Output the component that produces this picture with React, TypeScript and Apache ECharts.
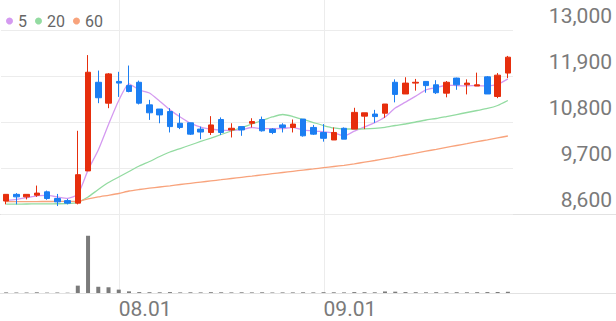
import React, { useEffect, useRef } from 'react';
import * as echarts from 'echarts';

const dates = [
  '07.17', '07.18', '07.19', '07.20', '07.21', '07.24', '07.25', '07.26', '07.27', '07.28', '07.31',
  '08.01', '08.02', '08.03', '08.04', '08.07', '08.08', '08.09', '08.10', '08.11', '08.14',
  '08.16', '08.17', '08.18', '08.21', '08.22', '08.23', '08.24', '08.25', '08.28', '08.29',
  '09.01', '09.04', '09.05', '09.06', '09.07', '09.08', '09.11', '09.12', '09.13', '09.14',
  '09.15', '09.18', '09.19', '09.20', '09.21', '09.22', '09.25', '09.26', '09.27',
];

const opens = [
  8910, 9070, 9010, 9050, 9130, 8970, 8920, 8860, 9630, 11750,
  11250, 11770, 11670, 11750, 11210, 11110, 11050, 10770, 10780, 10630,
  10550, 10860, 10610, 10690, 10770, 10860, 10630, 10730, 10670, 10870,
  10670, 10550, 10370, 10650, 10630, 10940, 10990, 11010, 11750, 11470,
  11730, 11770, 11690, 11490, 11850, 11690, 11660, 11880, 11410, 11970,
];
const closes = [
  9070, 9010, 9070, 9100, 8970, 8890, 8860, 9540, 11990, 11380,
  11950, 11730, 11530, 11250, 11020, 10970, 10690, 10670, 10510, 10560,
  10730, 10550, 10650, 10610, 10810, 10590, 10550, 10670, 10750, 10470,
  10510, 10410, 10550, 10390, 11030, 11020, 10930, 11230, 11460, 11730,
  11750, 11670, 11500, 11750, 11690, 11730, 11690, 11470, 11920, 12350,
];
const lows = [
  8830, 8830, 8950, 9010, 8940, 8790, 8830, 8830, 9630, 11250,
  11130, 11400, 11510, 11220, 10850, 10770, 10550, 10630, 10490, 10390,
  10490, 10490, 10430, 10470, 10670, 10570, 10510, 10550, 10550, 10450,
  10490, 10330, 10370, 10390, 10630, 10630, 10780, 10900, 11270, 11470,
  11550, 11500, 11470, 11390, 11570, 11460, 11660, 11470, 11370, 11850,
];
const highs = [
  9070, 9100, 9070, 9280, 9160, 9080, 8960, 10590, 12400, 12030,
  11970, 12000, 12150, 11790, 11330, 11110, 11130, 11010, 10780, 10690,
  10940, 10910, 10770, 10690, 10890, 10930, 10650, 10770, 10860, 10870,
  10730, 10750, 10670, 10670, 11140, 11020, 11090, 11230, 11820, 11870,
  11830, 11770, 11800, 11780, 11860, 11820, 11980, 11900, 11970, 12380,
];
const volumes = [
  60000, 40000, 50000, 70000, 40000, 50000, 30000, 720000, 5600000, 610000,
  560000, 330000, 160000, 90000, 80000, 70000, 90000, 60000, 70000, 60000,
  80000, 70000, 60000, 70000, 60000, 70000, 50000, 60000, 60000, 70000,
  60000, 80000, 70000, 60000, 90000, 80000, 70000, 150000, 130000, 90000,
  80000, 70000, 80000, 70000, 80000, 70000, 80000, 90000, 100000, 120000,
];

const ma5 = [
  8920, 8950, 8990, 9035, 9043, 9008, 8976, 9070, 9649, 10132,
  10743, 11316, 11713, 11565, 11494, 11297, 11090, 10920, 10773, 10680,
  10633, 10604, 10599, 10618, 10668, 10641, 10641, 10644, 10673, 10606,
  10590, 10563, 10540, 10468, 10580, 10682, 10786, 10921, 11135, 11274,
  11419, 11567, 11621, 11679, 11671, 11666, 11669, 11663, 11698, 11830,
];
const ma20 = [
  8835, 8837, 8839, 8841, 8843, 8845, 8848, 8880, 9006, 9186,
  9353, 9485, 9616, 9748, 9855, 9975, 10083, 10166, 10250, 10334,
  10417, 10501, 10585, 10668, 10752, 10836, 10920, 10979, 10931, 10860,
  10788, 10716, 10657, 10633, 10633, 10637, 10649, 10673, 10716, 10752,
  10800, 10848, 10884, 10931, 10979, 11027, 11075, 11123, 11195, 11314,
];
const ma60 = [
  8895, 8896, 8897, 8898, 8899, 8900, 8901, 8904, 8959, 9007,
  9047, 9090, 9150, 9186, 9217, 9246, 9274, 9305, 9334, 9363,
  9392, 9420, 9449, 9478, 9506, 9535, 9564, 9592, 9621, 9650,
  9678, 9707, 9736, 9765, 9800, 9839, 9879, 9922, 9965, 10011,
  10056, 10102, 10147, 10193, 10238, 10283, 10329, 10374, 10420, 10465,
];

const maNames = ['5', '20', '60'];
const maColors = ['#d49af0', '#93dba1', '#f8a37c'];
const priceTicks = [8600, 9700, 10800, 11900, 13000];

const UP = '#e62e0d';
const DOWN = '#1b7ef2';
const GRID_LINE = '#ececec';
const FONT = 'Roboto, "Noto Sans", sans-serif';

export default function App() {
  const ref = useRef<HTMLDivElement>(null);

  useEffect(() => {
    if (!ref.current) return;
    const chart = echarts.init(ref.current, null, { renderer: 'svg' });
    const base = priceTicks[0];
    const step = priceTicks[1] - priceTicks[0];
    const top = priceTicks[priceTicks.length - 1];
    const sh = (v: number) => v - base;
    const maxVol = Math.max(...volumes);

    const maSeries = [ma5, ma20, ma60].map((arr, k) => ({
      name: maNames[k],
      type: 'line',
      xAxisIndex: 0,
      yAxisIndex: 0,
      data: arr.map(sh),
      symbol: 'none',
      smooth: 0.2,
      itemStyle: { color: maColors[k] },
      lineStyle: { color: maColors[k], width: 1.3 },
      z: 2,
    }));

    chart.setOption({
      animation: false,
      legend: {
        data: maNames,
        left: 1,
        top: 8,
        icon: 'circle',
        itemWidth: 7,
        itemHeight: 7,
        itemGap: 8,
        selectedMode: false,
        textStyle: { fontFamily: FONT, fontSize: 16, color: '#666' },
      },
      grid: [
        { left: 1, right: 103, top: 30, height: 184 },
        { left: 1, right: 103, top: 214, height: 79 },
      ],
      xAxis: [
        {
          type: 'category',
          gridIndex: 0,
          data: dates,
          boundaryGap: true,
          axisLine: { show: false },
          axisTick: { show: false },
          axisLabel: { show: false },
          splitLine: { show: false },
        },
        {
          type: 'category',
          gridIndex: 1,
          data: dates,
          boundaryGap: true,
          axisLine: { show: false },
          axisTick: { show: false },
          splitLine: { show: false },
          axisLabel: {
            interval: (_i: number, v: string) => v.endsWith('.01'),
            align: 'left',
            verticalAlign: 'top',
            margin: 5,
            fontFamily: FONT,
            fontSize: 21,
            lineHeight: 21,
            color: '#7a7a7a',
          },
        },
      ],
      yAxis: [
        {
          type: 'value',
          gridIndex: 0,
          position: 'right',
          min: 0,
          max: top - base,
          interval: step,
          axisLine: { show: false },
          axisTick: { show: false },
          splitLine: { show: true, lineStyle: { color: GRID_LINE, width: 1 } },
          axisLabel: {
            formatter: (v: number) => (v + base).toLocaleString('en-US'),
            align: 'right',
            verticalAlign: 'bottom',
            margin: 99,
            padding: [0, 0, 4, 0],
            fontFamily: FONT,
            fontSize: 21,
            lineHeight: 21,
            color: '#7a7a7a',
          },
        },
        {
          type: 'value',
          gridIndex: 1,
          min: 0,
          max: maxVol * 1.38,
          show: false,
          splitLine: { show: false },
        },
      ],
      series: [
        ...maSeries,
        {
          name: 'price',
          type: 'candlestick',
          xAxisIndex: 0,
          yAxisIndex: 0,
          barWidth: 6,
          data: dates.map((_, i) => [sh(opens[i]), sh(closes[i]), sh(lows[i]), sh(highs[i])]),
          itemStyle: {
            color: UP,
            color0: DOWN,
            borderColor: UP,
            borderColor0: DOWN,
            borderWidth: 1,
          },
          z: 3,
        },
        {
          name: 'volume',
          type: 'bar',
          xAxisIndex: 1,
          yAxisIndex: 1,
          barWidth: 4,
          data: volumes,
          itemStyle: { color: '#7b7b7b' },
        },
      ],
    });

    const W = 616;
    const yPriceBottom = chart.convertToPixel({ yAxisIndex: 0 }, 0) as number;
    const yVolBottom = chart.convertToPixel({ yAxisIndex: 1 }, 0) as number;
    const vLines = dates
      .filter((d) => d.endsWith('.01'))
      .map((d) => {
        const x = Math.round(chart.convertToPixel({ xAxisIndex: 0 }, d) as number) + 0.5;
        return {
          type: 'line',
          shape: { x1: x, y1: 0, x2: x, y2: yVolBottom },
          style: { stroke: GRID_LINE, lineWidth: 1 },
          z: -1,
          silent: true,
        };
      });
    const hLines = [yPriceBottom, yVolBottom].map((y) => ({
      type: 'line',
      shape: { x1: 0, y1: Math.round(y) + 0.5, x2: W, y2: Math.round(y) + 0.5 },
      style: { stroke: '#e2e2e2', lineWidth: 1 },
      z: -1,
      silent: true,
    }));
    chart.setOption({ graphic: [...vLines, ...hLines] });

    return () => chart.dispose();
  }, []);

  return (
    <div
      ref={ref}
      style={{ position: 'fixed', left: 0, top: 0, width: 616, height: 321, background: '#fff' }}
    />
  );
}
